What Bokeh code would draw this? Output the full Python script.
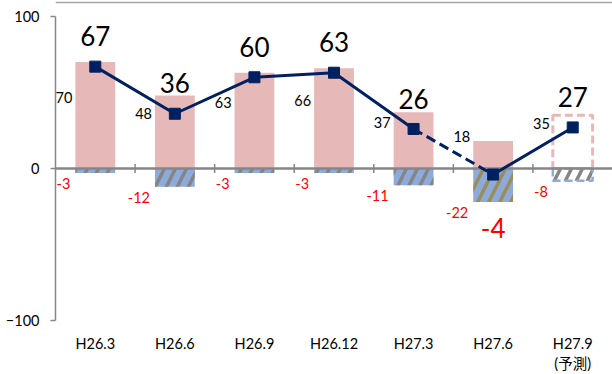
from bokeh.plotting import figure
from bokeh.models import Range1d, FixedTicker, Span
from bokeh.core.properties import value
from bokeh.embed import file_html
from bokeh.resources import INLINE

categories = ["H26.3", "H26.6", "H26.9", "H26.12", "H27.3", "H27.6", "H27.9\n(予測)"]
positive = [70, 48, 63, 66, 37, 18, 35]
negative = [-3, -12, -3, -3, -11, -22, -8]
net = [67, 36, 60, 63, 26, -4, 27]

FONT = "Lato, 'Noto Sans CJK JP', sans-serif"
PINK = "#E6B9B8"
BLUE = "#8EAADB"
NAVY = "#002060"
GRAY = "#868686"

n = len(categories)
xs = list(range(n))
W = 0.5
na = n - 1  # actual (non-forecast) count
left_edges = [x - W / 2 for x in xs]

p = figure(width=612, height=374, output_backend="svg", toolbar_location=None,
           x_range=Range1d(-0.5, n - 0.5), y_range=Range1d(-100, 110.5),
           min_border_left=55, min_border_right=0, min_border_top=0, min_border_bottom=53)
p.outline_line_color = None
p.xgrid.grid_line_color = None
p.ygrid.grid_line_color = None
p.background_fill_color = "white"
p.border_fill_color = "white"

# y axis
p.yaxis.ticker = FixedTicker(ticks=[-100, 0, 100])
p.yaxis.bounds = (-100, 100)
p.yaxis.axis_line_color = GRAY
p.yaxis.axis_line_width = 1.5
p.yaxis.major_tick_line_color = GRAY
p.yaxis.major_tick_line_width = 1.5
p.yaxis.major_tick_out = 5
p.yaxis.major_tick_in = 0
p.yaxis.minor_tick_line_color = None
p.yaxis.major_label_standoff = 11
p.yaxis.major_label_text_font = FONT
p.yaxis.major_label_text_font_size = "14.5px"
p.yaxis.major_label_text_color = "black"

# x axis: labels only
p.xaxis.ticker = FixedTicker(ticks=xs)
p.xaxis.major_label_overrides = {i: c for i, c in enumerate(categories)}
p.xaxis.axis_line_color = None
p.xaxis.major_tick_line_color = None
p.xaxis.major_tick_out = 0
p.xaxis.major_tick_in = 0
p.xaxis.minor_tick_line_color = None
p.xaxis.minor_tick_out = 0
p.xaxis.minor_tick_in = 0
p.xaxis.major_label_standoff = 14
p.xaxis.major_label_text_font = FONT
p.xaxis.major_label_text_font_size = "14.5px"
p.xaxis.major_label_text_color = "black"

# top border line
p.add_layout(Span(location=109.2, dimension="width", line_color="#A6A6A6", line_width=1.5))

# positive bars
p.vbar(x=xs[:na], top=positive[:na], bottom=0, width=W, fill_color=PINK, line_color=None)
p.vbar(x=xs[na:], top=positive[na:], bottom=0, width=W, fill_color="white",
       line_color=PINK, line_width=3, line_dash="8 4")

# negative bars
hatch_cols = ["#858585"] * na
hatch_cols[5] = "#9A8E58"
p.vbar(x=xs[:na], top=0, bottom=negative[:na], width=W, fill_color=BLUE, line_color=None,
       hatch_pattern="/", hatch_color=hatch_cols, hatch_weight=3.5, hatch_scale=22)
p.vbar(x=xs[na:], top=0, bottom=negative[na:], width=W, fill_color="white",
       line_color=BLUE, line_width=2.5, line_dash="8 4",
       hatch_pattern="/", hatch_color="#858585", hatch_weight=3.5, hatch_scale=22)

# zero line and boundary ticks
p.hspan(y=[0], line_color=GRAY, line_width=2.5)
bx = [i + 0.5 for i in range(n - 1)]
p.segment(x0=bx, y0=[-3] * len(bx), x1=bx, y1=[3] * len(bx), line_color=GRAY, line_width=1.5)

# net line
p.line(xs[:5], net[:5], line_color=NAVY, line_width=3)
p.line(xs[4:6], net[4:6], line_color=NAVY, line_width=3, line_dash="10 5")
p.line(xs[5:], net[5:], line_color=NAVY, line_width=3)
p.scatter(xs, net, marker="square", size=11, fill_color=NAVY, line_color=NAVY)

# labels
p.text(x=left_edges, y=[v / 2 + 12 for v in positive], text=[str(v) for v in positive],
       text_font=value(FONT), text_font_size=value("14.5px"), text_color="black",
       text_align="right", text_baseline="middle", x_offset=-3)
p.text(x=left_edges, y=[v - 7 for v in negative], text=[str(v) for v in negative],
       text_font=value(FONT), text_font_size=value("14.5px"), text_color="#FF0000",
       text_align="right", text_baseline="middle", x_offset=-5)
p.text(x=xs, y=[v + 20 if v >= 0 else v - 35 for v in net], text=[str(v) for v in net],
       text_font=value(FONT), text_font_size=value("26px"),
       text_color=["black" if v >= 0 else "#FF0000" for v in net],
       text_align="center", text_baseline="middle")

open("out.html", "w").write(file_html(p, INLINE))
